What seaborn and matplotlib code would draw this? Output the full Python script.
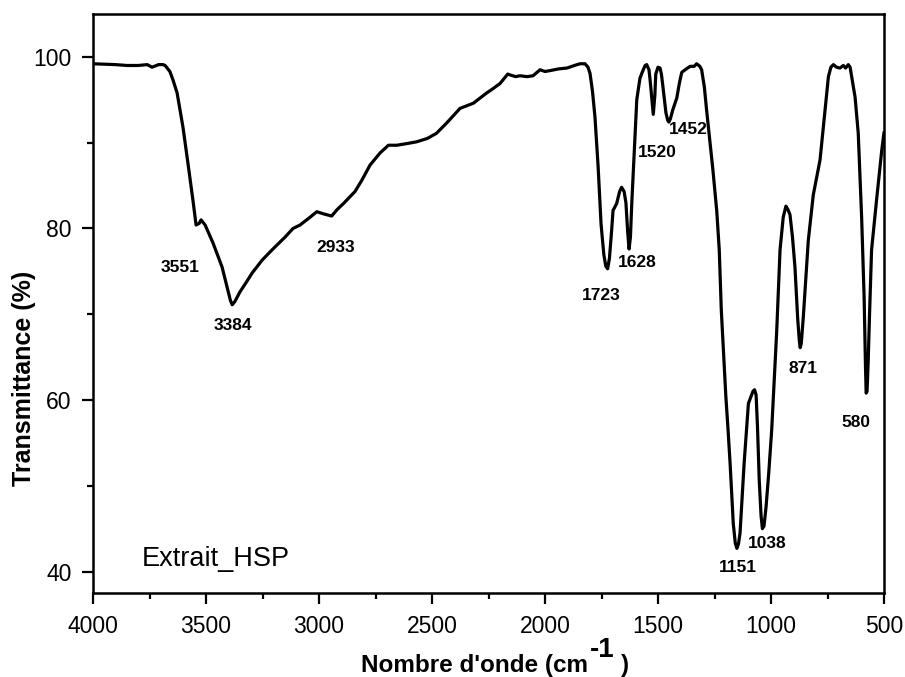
import matplotlib
matplotlib.use("Agg")
import matplotlib.pyplot as plt
from matplotlib.ticker import MultipleLocator
import seaborn as sns
import pandas as pd

# FTIR spectrum of the HSP extract: wavenumber (cm-1) and transmittance (%)
wavenumber = [
    4000, 3900, 3850, 3800, 3760, 3739, 3710, 3690, 3681, 3660, 3646, 3628,
    3602, 3580, 3558, 3544, 3530, 3522, 3504, 3469, 3429, 3405, 3392, 3384,
    3372, 3350, 3320, 3296, 3252, 3208, 3150, 3115, 3084, 3040, 3010, 2980,
    2944, 2920, 2892, 2841, 2811, 2774, 2730, 2693, 2656, 2610, 2568, 2520,
    2480, 2435, 2376, 2317, 2258, 2230, 2199, 2177, 2165, 2155, 2130, 2111,
    2080, 2053, 2035, 2022, 2000, 1978, 1940, 1903, 1870, 1845, 1823, 1810,
    1801, 1790, 1779, 1765, 1752, 1740, 1731, 1723, 1715, 1706, 1699, 1683,
    1670, 1661, 1650, 1642, 1634, 1628, 1622, 1616, 1609, 1594, 1580, 1570,
    1557, 1550, 1540, 1535, 1527, 1521, 1514, 1510, 1500, 1491, 1485, 1479,
    1465, 1457, 1452, 1445, 1435, 1417, 1405, 1395, 1380, 1358, 1340, 1329,
    1315, 1307, 1295, 1285, 1257, 1240, 1229, 1220, 1210, 1200, 1190, 1181,
    1167, 1158, 1151, 1144, 1137, 1119, 1100, 1090, 1080, 1073, 1066, 1060,
    1052, 1044, 1038, 1031, 1022, 1010, 997, 982, 975, 960, 946, 934,
    925, 916, 905, 894, 882, 875, 871, 866, 857, 835, 813, 783,
    761, 746, 735, 724, 710, 695, 680, 670, 658, 650, 643, 628,
    614, 599, 588, 582, 579, 575, 570, 564, 555, 533, 510, 500,
]
transmittance = [
    99.2, 99.1, 99.0, 99.0, 99.1, 98.8, 99.1, 99.1, 99.0, 98.3, 97.3, 95.8,
    91.8, 87.6, 83.3, 80.4, 80.6, 81.0, 80.4, 78.3, 75.5, 73.0, 71.6, 71.1,
    71.5, 72.6, 73.8, 74.8, 76.3, 77.5, 79.0, 80.0, 80.4, 81.3, 81.95, 81.7,
    81.45, 82.2, 82.9, 84.3, 85.6, 87.4, 88.8, 89.7, 89.7, 89.9, 90.1, 90.5,
    91.1, 92.3, 94.0, 94.6, 95.8, 96.3, 96.9, 97.6, 98.0, 97.9, 97.7, 97.8,
    97.7, 97.8, 98.2, 98.5, 98.3, 98.4, 98.6, 98.7, 99.0, 99.2, 99.2, 98.8,
    98.1, 96.0, 93.0, 87.2, 80.5, 77.0, 75.6, 75.3, 76.5, 79.5, 82.1, 82.9,
    84.3, 84.8, 84.3, 83.0, 79.5, 77.6, 79.0, 83.0, 86.8, 95.0, 97.5, 98.2,
    99.0, 99.1, 98.5, 97.3, 95.0, 93.3, 95.5, 98.0, 98.8, 98.7, 98.0, 96.7,
    93.5, 92.6, 92.4, 92.8, 93.8, 95.2, 97.0, 98.2, 98.5, 98.9, 98.9, 99.2,
    98.9, 98.5, 96.5, 93.8, 86.8, 82.0, 77.5, 70.5, 65.5, 60.5, 56.5, 52.6,
    45.6, 43.3, 42.7, 43.2, 44.5, 52.6, 59.6, 60.3, 61.0, 61.2, 60.6, 57.0,
    50.6, 46.5, 45.0, 45.3, 47.5, 51.5, 56.5, 64.3, 67.9, 77.5, 81.3, 82.6,
    82.2, 81.6, 79.0, 75.5, 69.5, 67.0, 66.1, 66.6, 69.7, 78.6, 83.9, 88.0,
    93.8, 97.7, 98.8, 99.1, 98.8, 98.7, 99.0, 98.7, 99.1, 98.8, 97.7, 95.3,
    91.1, 81.3, 72.0, 64.0, 60.8, 61.0, 64.5, 70.0, 77.5, 83.3, 89.1, 91.2,
]

# Band labels and where each one sits (wavenumber, transmittance)
band_labels = ["3551", "3384", "2933", "1723", "1628", "1520", "1452",
               "1151", "1038", "871", "580"]
band_label_x = [3615, 3381, 2925, 1749, 1594, 1502, 1366, 1145, 1015, 857, 624]
band_label_y = [75.5, 68.7, 77.8, 72.2, 76.0, 88.9, 91.5, 40.5, 43.3, 63.7, 57.4]

x_ticks = [4000, 3500, 3000, 2500, 2000, 1500, 1000, 500]
y_ticks = [40, 60, 80, 100]

sns.set_theme(style="ticks")
plt.rcParams["font.family"] = ["Liberation Sans", "DejaVu Sans"]
plt.rcParams["text.color"] = "black"
plt.rcParams["axes.labelcolor"] = "black"

fig = plt.figure(figsize=(9.05, 6.77), dpi=100)
ax = fig.add_axes([0.1028, 0.1241, 0.9768 - 0.1028, 0.9793 - 0.1241])

df = pd.DataFrame({"wavenumber": wavenumber, "transmittance": transmittance})
sns.lineplot(data=df, x="wavenumber", y="transmittance", sort=False,
             estimator=None, color="black", linewidth=2.3, ax=ax)

ax.set_xlim(4000, 500)
ax.set_ylim(37.5, 105)
ax.set_xticks(x_ticks)
ax.set_yticks(y_ticks)
ax.xaxis.set_minor_locator(MultipleLocator(250))
ax.yaxis.set_minor_locator(MultipleLocator(10))
ax.tick_params(axis="both", which="major", direction="out", length=8,
               width=1.6, labelsize=16.5, pad=7.5, color="black",
               labelcolor="black")
ax.tick_params(axis="both", which="minor", direction="out", length=4.3,
               width=1.6, color="black")
for side in ["left", "right", "top", "bottom"]:
    ax.spines[side].set_visible(True)
    ax.spines[side].set_linewidth(1.8)
    ax.spines[side].set_color("black")

ax.set_xlabel("")
ax.set_ylabel("Transmittance (%)", fontsize=18, fontweight="bold",
              color="black", va="center", ha="center",
              rotation_mode="anchor")
ax.yaxis.set_label_coords((24 - 93) / 791, (593 - 378) / 579)

for lab, lx, ly in zip(band_labels, band_label_x, band_label_y):
    ax.text(lx, ly, lab, ha="center", va="center", fontsize=12.5,
            fontweight="bold", color="black")

ax.text(3785, 40.7, "Extrait_HSP", ha="left", va="baseline", fontsize=19.5,
        color="black")

# x-axis title with its large raised exponent
W, H = 905, 677
fig.text(588 / W, 1 - 672 / H, "Nombre d'onde (cm", ha="right",
         va="baseline", fontsize=17.5, fontweight="bold", color="black")
fig.text(590 / W, 1 - 657 / H, "-1", ha="left", va="baseline",
         fontsize=20, fontweight="bold", color="black")
fig.text(621 / W, 1 - 672 / H, ")", ha="left", va="baseline",
         fontsize=17.5, fontweight="bold", color="black")

fig.savefig("out.png", dpi=100, facecolor="white")
